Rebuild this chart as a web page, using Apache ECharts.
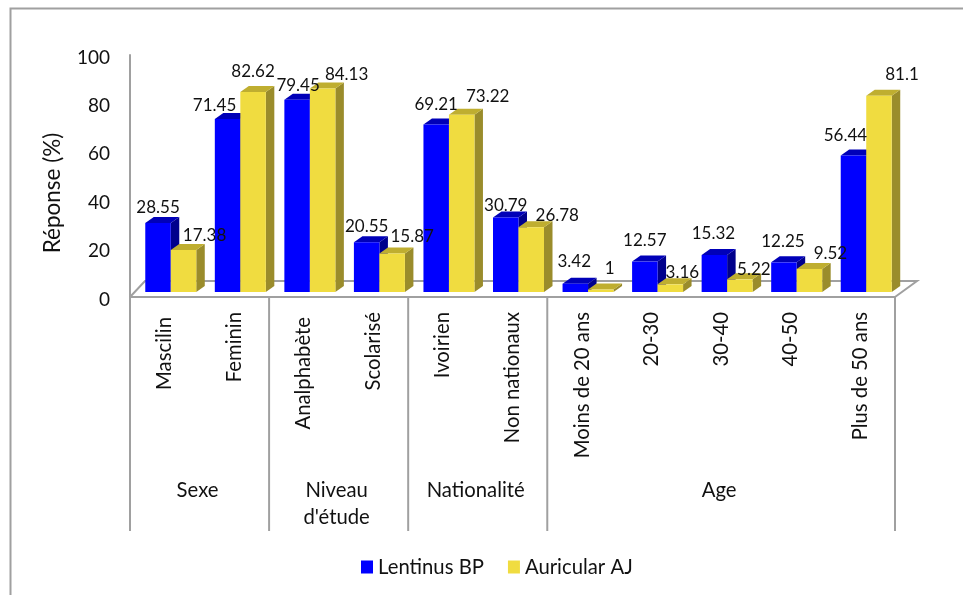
<!DOCTYPE html>
<html>
<head>
<meta charset="utf-8">
<style>
  html, body { margin: 0; padding: 0; background: #fff; }
  #chart { width: 963px; height: 595px; }
</style>
</head>
<body>
<div id="chart"></div>
<script src="https://cdn.jsdelivr.net/npm/echarts@6/dist/echarts.min.js"></script>
<script>
// valeurs
const categories = ['Mascilin', 'Feminin', 'Analphabète', 'Scolarisé', 'Ivoirien', 'Non nationaux',
    'Moins de 20 ans', '20-30', '30-40', '40-50', 'Plus de 50 ans'];
const lentinus = [28.55, 71.45, 79.45, 20.55, 69.21, 30.79, 3.42, 12.57, 15.32, 12.25, 56.44];
const auricular = [17.38, 82.62, 84.13, 15.87, 73.22, 26.78, 1, 3.16, 5.22, 9.52, 81.1];
const groupNames = ['Sexe', "Niveau\nd'étude", 'Nationalité', 'Age'];
const groupStarts = [0, 2, 4, 6];
const groupEnds = [2, 4, 6, 11];
const yTicks = [0, 20, 40, 60, 80, 100];

// décalages des étiquettes (placées à la main dans la figure d'origine)
const lentinusNudge = [[0, -15], [-13, -14], [1, -14], [0, -16], [0, -20], [0, -12], [-1, -22], [0, -21], [-1, -21], [-1, -21], [-8, -20]];
const auricularNudge = [[21, -14], [0, -21], [24, -14], [20, -17], [26, -18], [26, -12], [9, -21], [12, -12], [14, -10], [21, -15], [23, -21]];
// ces deux libellés commencent un peu plus bas que les autres
const loweredLabels = ['Mascilin', 'Analphabète'];

const FONT = 'Lato';
const TEXT = '#111';
const LINE = '#a0a0a0';
const BAR_W = 25.5;
const DEPTH_X = 8.5;
const DEPTH_Y = 6;
const FRONT_Y = -5;     // les barres reposent un peu derrière le bord avant du plancher
const SHIFT_X = 6;

const polygon = (points, fill) => ({ type: 'polygon', shape: { points }, style: { fill } });

const barRenderer = (side, colors) => (params, api) => {
    const i = api.value(0);
    const center = api.coord([i, 0])[0] + SHIFT_X;
    const x0 = side === 0 ? center - BAR_W : center;
    const x1 = x0 + BAR_W;
    const base = api.coord([i, 0])[1] + FRONT_Y;
    const top = api.coord([i, api.value(1)])[1] + FRONT_Y;
    return {
        type: 'group',
        children: [
            polygon([[x1, base], [x1 + DEPTH_X, base - DEPTH_Y], [x1 + DEPTH_X, top - DEPTH_Y], [x1, top]], colors[2]),
            polygon([[x0, top], [x0 + DEPTH_X, top - DEPTH_Y], [x1 + DEPTH_X, top - DEPTH_Y], [x1, top]], colors[1]),
            { type: 'rect', shape: { x: x0, y: top, width: BAR_W, height: base - top }, style: { fill: colors[0] } }
        ]
    };
};

const labelRenderer = (side, nudges) => (params, api) => {
    const i = api.value(0);
    const v = api.value(1);
    const center = api.coord([i, 0])[0] + SHIFT_X;
    const cx = side === 0 ? center - BAR_W / 2 : center + BAR_W / 2;
    const top = api.coord([i, v])[1] + FRONT_Y;
    return {
        type: 'text',
        x: cx + nudges[i][0],
        y: top + nudges[i][1],
        style: { text: String(v), font: '17px ' + FONT, fill: TEXT, align: 'center', verticalAlign: 'middle' }
    };
};

// bord gauche d'une catégorie (api.coord arrondit les index non entiers)
const bandEdge = (api, index) => api.coord([0, 0])[0] + (index - 0.5) * api.size([1, 0])[0];

// plancher et séparateurs de groupes
const floorRenderer = (params, api) => {
    const y0 = api.coord([0, 0])[1];
    const xl = bandEdge(api, 0);
    const xr = bandEdge(api, categories.length);
    const style = { stroke: LINE, lineWidth: 2, fill: 'none' };
    const children = [
        { type: 'polyline', shape: { points: [[xl, y0], [xl + 15, y0 - 16], [xr + 22, y0 - 16], [xr, y0]] }, style }
    ];
    groupStarts.concat([categories.length]).forEach((g) => {
        const x = bandEdge(api, g);
        children.push({ type: 'line', shape: { x1: x, y1: y0, x2: x, y2: y0 + 234 }, style });
    });
    return { type: 'group', children };
};

const groupRenderer = (params, api) => {
    const i = params.dataIndex;
    const x = (bandEdge(api, groupStarts[i]) + bandEdge(api, groupEnds[i])) / 2 - 2;
    const y0 = api.coord([0, 0])[1];
    return {
        type: 'text',
        x,
        y: y0 + 180,
        style: { text: groupNames[i], font: '20.3px ' + FONT, fill: TEXT, align: 'center', verticalAlign: 'top', lineHeight: 27 }
    };
};

const blueColors = ['#0000ff', '#0000b8', '#00008c'];
const yellowColors = ['#f0dc40', '#bfae30', '#9a8c2b'];

const pairs = (values) => values.map((v, i) => [i, v]);

const chart = echarts.init(document.getElementById('chart'), null, { renderer: 'canvas' });
chart.setOption({
    animation: false,
    backgroundColor: '#fff',
    textStyle: { fontFamily: FONT },
    grid: { left: 130, top: 55, width: 765, height: 242 },
    legend: {
        left: 356, top: 552, itemWidth: 12, itemHeight: 13, itemGap: 24, icon: 'rect',
        textStyle: { fontFamily: FONT, fontSize: 20.3, color: TEXT },
        data: ['Lentinus BP', 'Auricular AJ']
    },
    xAxis: {
        type: 'category',
        data: categories,
        axisTick: { show: false },
        axisLine: { lineStyle: { color: LINE, width: 2 } },
        axisLabel: {
            rotate: 90, interval: 0, margin: 15, fontFamily: FONT, fontSize: 20.3, color: TEXT, hideOverlap: false,
            formatter: (v) => (loweredLabels.includes(v) ? `{low|${v}}` : v),
            rich: { low: { fontFamily: FONT, fontSize: 20.3, color: TEXT, padding: [0, 5, 0, 0] } }
        }
    },
    yAxis: {
        type: 'value',
        min: 0,
        max: 100,
        interval: 20,
        name: 'Réponse (%)',
        nameLocation: 'middle',
        nameRotate: 90,
        nameGap: 66,
        nameTextStyle: { fontFamily: FONT, fontSize: 22.5, color: TEXT, padding: [0, 34, 0, 0] },
        splitLine: { show: false },
        axisTick: { show: false },
        axisLine: { show: true, lineStyle: { color: LINE, width: 2 } },
        axisLabel: {
            margin: 20, color: TEXT,
            formatter: (v) => (yTicks.includes(v) ? `{t|${v}}` : ''),
            rich: { t: { fontFamily: FONT, fontSize: 19, color: TEXT, padding: [5, 0, 0, 0] } }
        }
    },
    graphic: [
        { type: 'polyline', silent: true, shape: { points: [[10.5, 595], [10.5, 8.5], [963, 8.5]] }, style: { stroke: '#a0a0a0', lineWidth: 2, fill: 'none' } }
    ],
    series: [
        { type: 'custom', name: 'floor', renderItem: floorRenderer, data: [[0, 0]], silent: true, z: 1, clip: false, encode: { x: 0, y: 1 } },
        { type: 'custom', name: 'Lentinus BP', renderItem: barRenderer(0, blueColors), data: pairs(lentinus), itemStyle: { color: blueColors[0] }, z: 2, encode: { x: 0, y: 1 } },
        { type: 'custom', name: 'Auricular AJ', renderItem: barRenderer(1, yellowColors), data: pairs(auricular), itemStyle: { color: yellowColors[0] }, z: 3, encode: { x: 0, y: 1 } },
        { type: 'custom', name: 'labelsA', renderItem: labelRenderer(0, lentinusNudge), data: pairs(lentinus), silent: true, z: 5, encode: { x: 0, y: 1 } },
        { type: 'custom', name: 'labelsB', renderItem: labelRenderer(1, auricularNudge), data: pairs(auricular), silent: true, z: 5, encode: { x: 0, y: 1 } },
        { type: 'custom', name: 'groups', renderItem: groupRenderer, data: groupNames.map((n, i) => [groupStarts[i], 0]), silent: true, z: 5, encode: { x: 0, y: 1 } }
    ]
});
</script>
</body>
</html>
